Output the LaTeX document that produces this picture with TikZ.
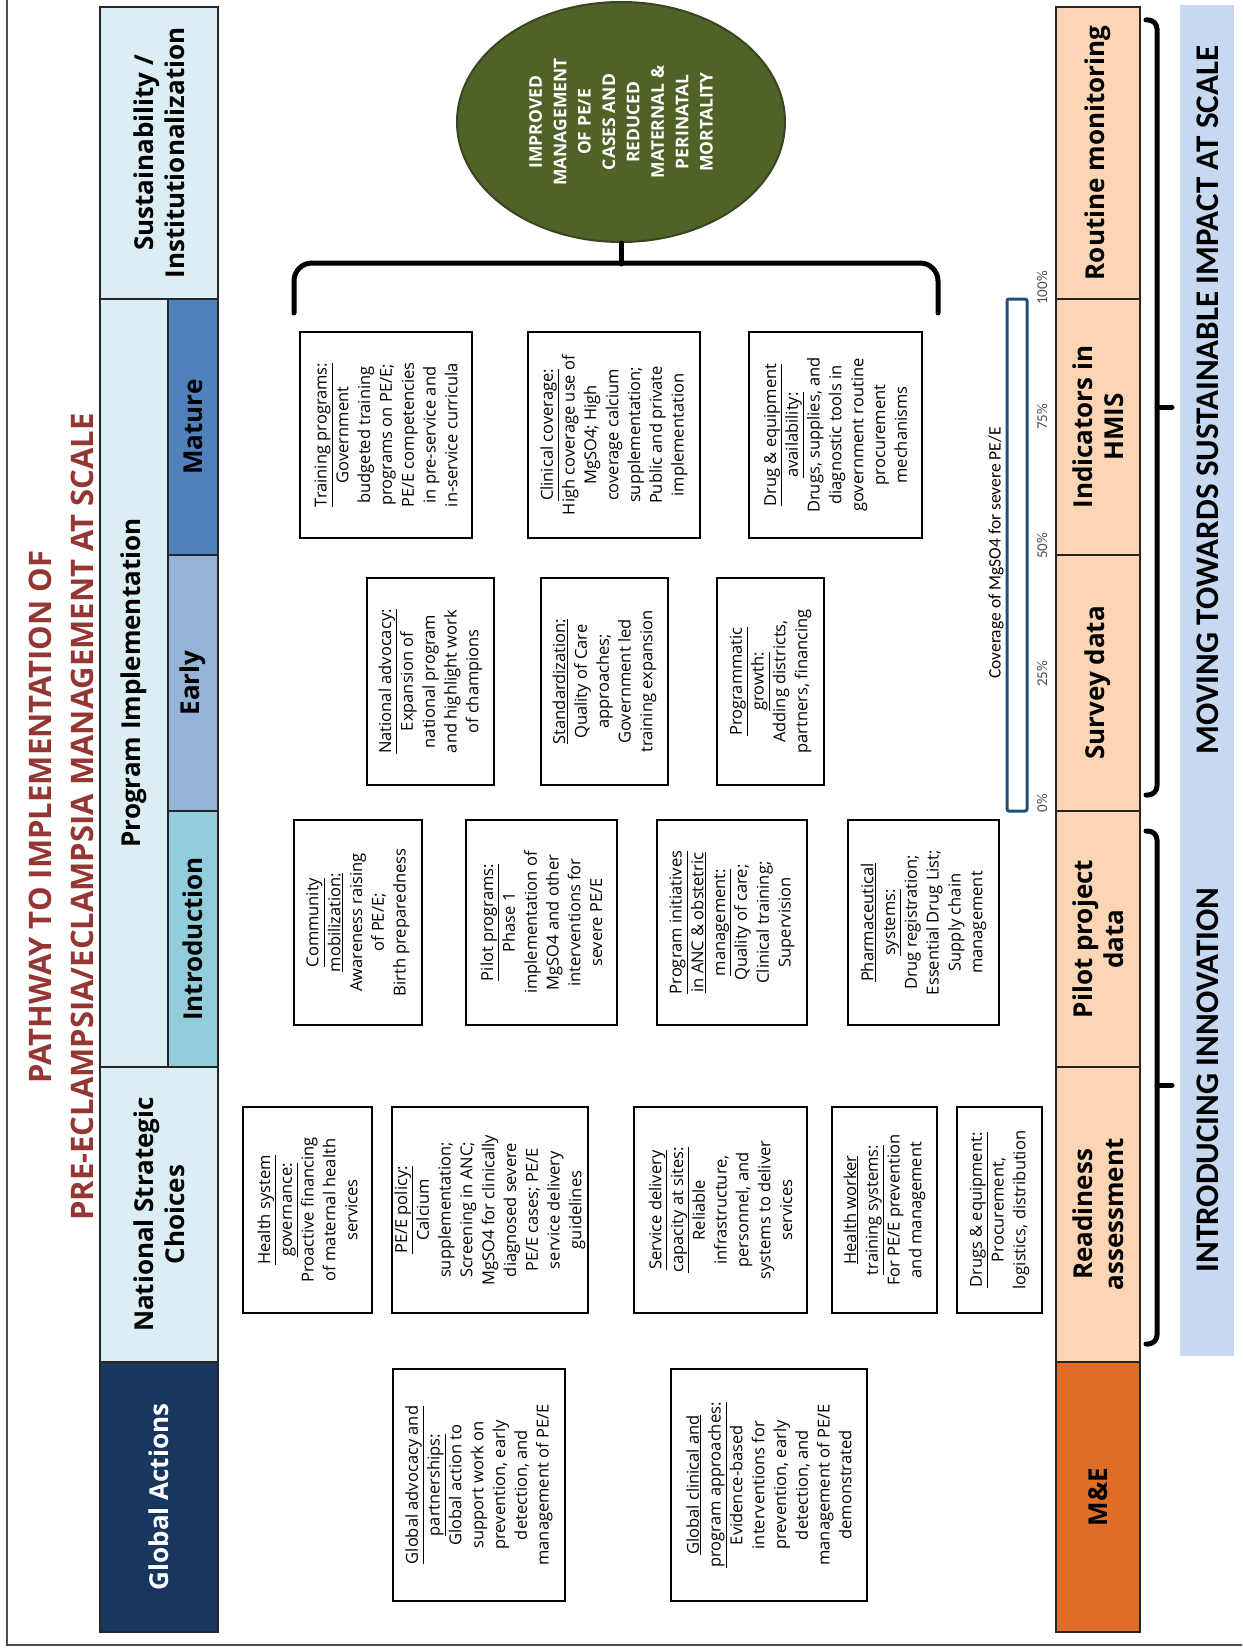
\documentclass[tikz,border=0pt]{standalone}
\usepackage{fontspec}
\setmainfont{Open Sans}
\newfontfamily\calfont{Carlito}
\usepackage{tikz}
\usetikzlibrary{positioning,shapes.geometric}

\definecolor{PaleBlue}{HTML}{DAEEF3}
\definecolor{MatureBlue}{HTML}{4F81BD}
\definecolor{EarlyBlue}{HTML}{95B3D7}
\definecolor{IntroTeal}{HTML}{92CDDC}
\definecolor{NavyBlue}{HTML}{17375E}
\definecolor{Peach}{HTML}{FCD5B4}
\definecolor{DeepOrange}{HTML}{DF6D26}
\definecolor{BannerBlue}{HTML}{C6D9F1}
\definecolor{OliveGreen}{HTML}{4F6228}
\definecolor{OliveEdge}{HTML}{3B4420}
\definecolor{TitleRed}{HTML}{943634}
\definecolor{BarBlue}{HTML}{1F4E79}

\tikzset{Cell/.style={%
    shape=rectangle,%
    draw=black!85,%
    line width=2.2pt,%
    rotate=90,%
    align=center,%
    inner sep=0pt,%
    font=\bfseries\fontsize{26}{31}\selectfont,%
}}
\tikzset{Card/.style={%
    shape=rectangle,%
    draw=black,%
    line width=1.6pt,%
    rotate=90,%
    align=center,%
    inner sep=2pt,%
    minimum width=#1,%
    font=\fontsize{16.5}{21.8}\selectfont,%
}}
\tikzset{Banner/.style={%
    rotate=90,%
    inner sep=0pt,%
    font=\calfont\bfseries\fontsize{33}{38}\selectfont,%
}}
\tikzset{TickLabel/.style={%
    rotate=90,%
    inner sep=0pt,%
    text=black!70,%
    font=\calfont\fontsize{15}{17}\selectfont,%
}}
\tikzset{Brace/.style={%
    line width=5pt,%
    line cap=round,%
}}
\NewDocumentCommand{\cardHead}{m}{\underline{#1}}

\begin{document}
\begin{tikzpicture}[x=1pt,y=-1pt]
    \useasboundingbox (0,0) rectangle (1242,1648);
    \draw[line width=1.2pt, black!70] (7,0) -- (7,1645) -- (1242,1645);

    % title
    \node[rotate=90, align=center, text=TitleRed, font=\bfseries\fontsize{31}{42}\selectfont] (title) at (61,817)
        {PATHWAY TO IMPLEMENTATION OF\\PRE-ECLAMPSIA/ECLAMPSIA MANAGEMENT AT SCALE};

    % header row
    \node[Cell, fill=PaleBlue, minimum width=292pt, minimum height=118pt] (sust) at (159,153) {Sustainability /\\Institutionalization};
    \node[Cell, fill=PaleBlue, minimum width=768pt, minimum height=68pt] (prog) at (134,683) {Program Implementation};
    \node[Cell, fill=MatureBlue, minimum width=256pt, minimum height=50pt] (mature) at (193,427) {Mature};
    \node[Cell, fill=EarlyBlue, minimum width=256pt, minimum height=50pt] (early) at (193,683) {Early};
    \node[Cell, fill=IntroTeal, minimum width=256pt, minimum height=50pt] (intro) at (193,939) {Introduction};
    \node[Cell, fill=PaleBlue, minimum width=295pt, minimum height=118pt] (nsc) at (159,1214.5) {National Strategic\\Choices};
    \node[Cell, fill=NavyBlue, text=white, minimum width=270pt, minimum height=118pt] (global) at (159,1497) {Global Actions};

    % goal
    \node[ellipse, draw=OliveEdge, line width=2pt, fill=OliveGreen, minimum width=240pt, minimum height=328pt,
        rotate=90, inner sep=0pt, text=white, align=center, font=\bfseries\fontsize{17.5}{24.4}\selectfont] (goal) at (621,122)
        {IMPROVED\\MANAGEMENT\\OF PE/E\\CASES AND\\REDUCED\\MATERNAL \&\\PERINATAL\\MORTALITY};

    \coordinate (capL) at (294,313);
    \coordinate (capR) at (938,313);
    \draw[Brace, rounded corners=18pt] (capL) -- ++(0,-50) -- ++(644,0) -- (capR);
    \draw[Brace] (goal.west) -- ++(0,21);

    % mature
    \node[Card=206pt, minimum height=172pt] (trainProg) at (386,435)
        {\cardHead{Training programs:}\\Government\\budgeted training\\programs on PE/E;\\PE/E competencies\\in pre-service and\\in-service curricula};
    \node[Card=206pt, minimum height=172pt] (clinCov) at (614,435)
        {\cardHead{Clinical coverage:}\\High coverage use of\\MgSO4; High\\coverage calcium\\supplementation;\\Public and private\\implementation};
    \node[Card=206pt, minimum height=173pt] (drugAvail) at (835.5,435)
        {\cardHead{Drug \& equipment}\\\cardHead{availability:}\\Drugs, supplies, and\\diagnostic tools in\\government routine\\procurement\\mechanisms};

    % early
    \node[Card=207pt, minimum height=127pt] (natAdv) at (430.5,681.5)
        {\cardHead{National advocacy:}\\Expansion of\\national program\\and highlight work\\of champions};
    \node[Card=207pt, minimum height=127pt] (standard) at (604.5,681.5)
        {\cardHead{Standardization:}\\Quality of Care\\approaches;\\Government led\\training expansion};
    \node[Card=207pt, minimum height=107pt] (progGrowth) at (770.5,681.5)
        {\cardHead{Programmatic}\\\cardHead{growth:}\\Adding districts,\\partners, financing};

    % introduction
    \node[Card=205pt, minimum height=128pt] (commMob) at (358,922.5)
        {\cardHead{Community}\\\cardHead{mobilization:}\\Awareness raising\\of PE/E;\\Birth preparedness};
    \node[Card=205pt, minimum height=151pt] (pilotProg) at (541.5,922.5)
        {\cardHead{Pilot programs:}\\Phase 1\\implementation of\\MgSO4 and other\\interventions for\\severe PE/E};
    \node[Card=205pt, minimum height=150pt] (ancInit) at (732,922.5)
        {\cardHead{Program initiatives}\\\cardHead{in ANC \& obstetric}\\\cardHead{management:}\\Quality of care;\\Clinical training;\\Supervision};
    \node[Card=205pt, minimum height=151pt] (pharma) at (923.5,922.5)
        {\cardHead{Pharmaceutical}\\\cardHead{systems:}\\Drug registration;\\Essential Drug List;\\Supply chain\\management};

    % national strategic choices
    \node[Card=206pt, minimum height=129pt] (govern) at (307.5,1210)
        {\cardHead{Health system}\\\cardHead{governance:}\\Proactive financing\\of maternal health\\services};
    \node[Card=206pt, minimum height=196pt] (policy) at (490,1210)
        {\cardHead{PE/E policy:}\\Calcium\\supplementation;\\Screening in ANC;\\MgSO4 for clinically\\diagnosed severe\\PE/E cases; PE/E\\service delivery\\guidelines};
    \node[Card=206pt, minimum height=173pt] (service) at (720.5,1210)
        {\cardHead{Service delivery}\\\cardHead{capacity at sites:}\\Reliable\\infrastructure,\\personnel, and\\systems to deliver\\services};
    \node[Card=206pt, minimum height=105pt] (hwTrain) at (884.5,1210)
        {\cardHead{Health worker}\\\cardHead{training systems:}\\For PE/E prevention\\and management};
    \node[Card=206pt, minimum height=85pt] (drugsEq) at (999.5,1210)
        {\cardHead{Drugs \& equipment:}\\Procurement,\\logistics, distribution};

    % global actions
    \node[Card=232pt, minimum height=172pt] (globAdv) at (479,1485)
        {\cardHead{Global advocacy and}\\\cardHead{partnerships:}\\Global action to\\support work on\\prevention, early\\detection, and\\management of PE/E};
    \node[Card=232pt, minimum height=196pt] (globClin) at (769,1485)
        {\cardHead{Global clinical and}\\\cardHead{program approaches:}\\Evidence-based\\interventions for\\prevention, early\\detection, and\\management of PE/E\\demonstrated};

    % coverage bar
    \node[draw=BarBlue, line width=3pt, rounded corners=2pt, minimum width=512pt, minimum height=20pt,
        rotate=90, inner sep=0pt] (covBar) at (1017,555) {};
    \node[rotate=90, inner sep=0pt, font=\calfont\fontsize{17.5}{19}\selectfont] (covLabel) at (996,553) {Coverage of MgSO4 for severe PE/E};
    \foreach \pct/\ypos [count=\i] in {0/803, 25/674, 50/546, 75/417, 100/288} {
        \node[TickLabel] (tick\i) at (1042,\ypos) {\pct\%};
    }

    % M&E row
    \node[Cell, fill=Peach, minimum width=292pt, minimum height=84pt] (routine) at (1098,153) {Routine monitoring};
    \node[Cell, fill=Peach, minimum width=256pt, minimum height=84pt] (hmis) at (1098,427) {Indicators in\\HMIS};
    \node[Cell, fill=Peach, minimum width=256pt, minimum height=84pt] (survey) at (1098,683) {Survey data};
    \node[Cell, fill=Peach, minimum width=256pt, minimum height=84pt] (pilotData) at (1098,939) {Pilot project\\data};
    \node[Cell, fill=Peach, minimum width=295pt, minimum height=84pt] (readiness) at (1098,1214.5) {Readiness\\assessment};
    \node[Cell, fill=DeepOrange, minimum width=270pt, minimum height=84pt] (mande) at (1098,1497) {M\&E};

    % braces to banner
    \coordinate (movTop) at (1146,20);
    \coordinate (movBot) at (1146,795);
    \coordinate (movTip) at (1172,407);
    \draw[Brace, rounded corners=9pt] (movTop) -- ++(11,0) -- ++(0,775) -- (movBot);
    \draw[Brace] (movTip) -- ++(-15,0);
    \coordinate (innTop) at (1146,831);
    \coordinate (innBot) at (1146,1344);
    \coordinate (innTip) at (1172,1085);
    \draw[Brace, rounded corners=9pt] (innTop) -- ++(11,0) -- ++(0,513) -- (innBot);
    \draw[Brace] (innTip) -- ++(-15,0);

    % banner
    \node[fill=BannerBlue, rotate=90, minimum width=1351pt, minimum height=54pt, inner sep=0pt] (banner) at (1207,680.5) {};
    \node[Banner] (moving) at (1208,400) {MOVING TOWARDS SUSTAINABLE IMPACT AT SCALE};
    \node[Banner] (innovation) at (1208,1080) {INTRODUCING INNOVATION};
\end{tikzpicture}
\end{document}
